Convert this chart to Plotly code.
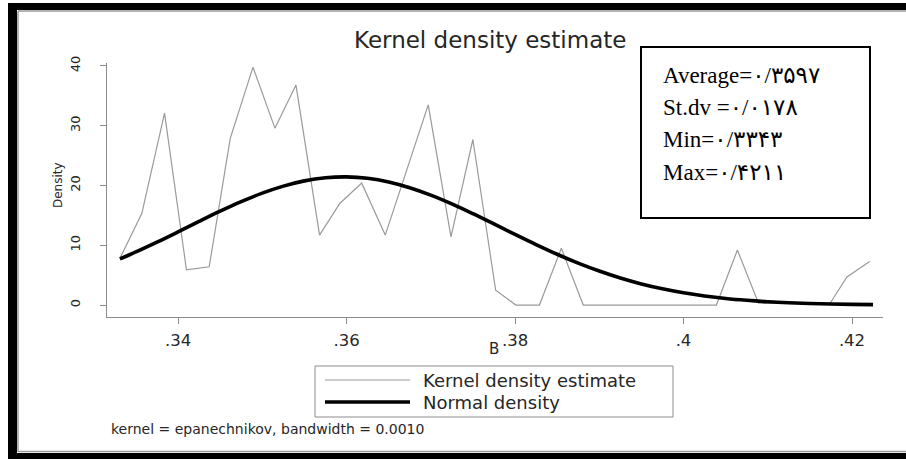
import plotly.graph_objects as go

# Kernel density estimate of B (Epanechnikov kernel, bandwidth 0.0010)
kde_x = [0.3331, 0.3357, 0.3384, 0.3410, 0.3437, 0.3462, 0.3489, 0.3515, 0.3540,
         0.3568, 0.3592, 0.3618, 0.3646, 0.3697, 0.3724, 0.3750, 0.3777, 0.3801,
         0.3829, 0.3855, 0.3881, 0.4039, 0.4064, 0.4089, 0.4174, 0.4194, 0.4221]
kde_y = [7.8, 15.3, 32.1, 5.9, 6.4, 27.9, 39.8, 29.6, 36.8,
         11.7, 17.0, 20.4, 11.7, 33.5, 11.4, 27.7, 2.5, 0.0,
         0.0, 9.5, 0.0, 0.0, 9.2, 0.3, 0.3, 4.7, 7.3]

# Normal density with the sample mean and spread
norm_x = [0.3331, 0.3350, 0.3375, 0.3400, 0.3425, 0.3450, 0.3475, 0.3500, 0.3525,
          0.3550, 0.3575, 0.3600, 0.3625, 0.3650, 0.3675, 0.3700, 0.3725, 0.3750,
          0.3775, 0.3800, 0.3825, 0.3850, 0.3875, 0.3900, 0.3925, 0.3950, 0.3975,
          0.4000, 0.4025, 0.4050, 0.4075, 0.4100, 0.4125, 0.4150, 0.4175, 0.4200, 0.4225]
norm_y = [7.72, 8.88, 10.52, 12.24, 13.99, 15.70, 17.30, 18.72, 19.90,
          20.78, 21.30, 21.45, 21.21, 20.60, 19.64, 18.40, 16.93, 15.29,
          13.57, 11.82, 10.12, 8.50, 7.02, 5.69, 4.53, 3.54, 2.72,
          2.05, 1.52, 1.10, 0.79, 0.55, 0.38, 0.26, 0.17, 0.11, 0.07]

x_ticks = [0.34, 0.36, 0.38, 0.40, 0.42]
x_tick_labels = [".34", ".36", ".38", ".4", ".42"]
y_ticks = [0, 10, 20, 30, 40]
y_tick_labels = ["0", "10", "20", "30", "40"]

stats_lines = ["Average=۰/۳۵۹۷", "St.dv =۰/۰۱۷۸", "Min=۰/۳۳۴۳", "Max=۰/۴۲۱۱"]
legend_labels = ["Kernel density estimate", "Normal density"]
note_text = "kernel = epanechnikov, bandwidth = 0.0010"

W, H = 906, 459
ML, MR, MT, MB = 107, 23, 63, 142
PW, PH = W - ML - MR, H - MT - MB


def px(x):
    return (x - ML) / PW


def py(y):
    return (H - MB - y) / PH


SANS = "DejaVu Sans"
TXT = "#262626"
KDE_COLOR = "#9a9a9a"

fig = go.Figure()
fig.add_trace(go.Scatter(x=kde_x, y=kde_y, mode="lines",
                         line=dict(color=KDE_COLOR, width=1.2),
                         name=legend_labels[0], showlegend=False))
fig.add_trace(go.Scatter(x=norm_x, y=norm_y, mode="lines",
                         line=dict(color="#000000", width=3.6, shape="spline"),
                         name=legend_labels[1], showlegend=False))

shapes = []
# outer frame
shapes.append(dict(type="rect", xref="paper", yref="paper", x0=px(8), x1=px(W + 2),
                   y0=py(10), y1=py(3), fillcolor="black", line=dict(width=0), layer="above"))
shapes.append(dict(type="rect", xref="paper", yref="paper", x0=px(8), x1=px(17),
                   y0=py(H + 2), y1=py(3), fillcolor="black", line=dict(width=0), layer="above"))
shapes.append(dict(type="rect", xref="paper", yref="paper", x0=px(8), x1=px(W + 2),
                   y0=py(H + 2), y1=py(453), fillcolor="black", line=dict(width=0), layer="above"))
shapes.append(dict(type="line", xref="paper", yref="paper", x0=px(18), x1=px(W + 2),
                   y0=py(11), y1=py(11), line=dict(color="#9a9a9a", width=1.5)))
shapes.append(dict(type="line", xref="paper", yref="paper", x0=px(18), x1=px(18),
                   y0=py(452), y1=py(11), line=dict(color="#9a9a9a", width=1.5)))
shapes.append(dict(type="line", xref="paper", yref="paper", x0=px(18), x1=px(W + 2),
                   y0=py(451.5), y1=py(451.5), line=dict(color="#9a9a9a", width=1.5)))

# statistics box
shapes.append(dict(type="rect", xref="paper", yref="paper", x0=px(641), x1=px(870),
                   y0=py(218), y1=py(47), fillcolor="white",
                   line=dict(color="black", width=2), layer="above"))

# legend box with long line samples
shapes.append(dict(type="rect", xref="paper", yref="paper", x0=px(315), x1=px(673),
                   y0=py(417), y1=py(366), line=dict(color="#8c8c8c", width=1)))
shapes.append(dict(type="line", xref="paper", yref="paper", x0=px(325), x1=px(410),
                   y0=py(380), y1=py(380), line=dict(color=KDE_COLOR, width=1.2)))
shapes.append(dict(type="line", xref="paper", yref="paper", x0=px(325), x1=px(410),
                   y0=py(402), y1=py(402), line=dict(color="black", width=3.6)))

annotations = []
annotations.append(dict(text="Kernel density estimate", xref="paper", yref="paper",
                        x=px(490), y=py(40), showarrow=False, xanchor="center",
                        yanchor="middle", font=dict(family=SANS, size=23, color=TXT)))
annotations.append(dict(text="Density", xref="paper", yref="paper", x=px(58), y=py(185),
                        showarrow=False, textangle=-90, xanchor="center", yanchor="middle",
                        font=dict(family=SANS, size=12, color=TXT)))
annotations.append(dict(text="B", xref="paper", yref="paper", x=px(494), y=py(349),
                        showarrow=False, xanchor="center", yanchor="middle",
                        font=dict(family=SANS, size=15, color=TXT)))
annotations.append(dict(text=note_text, xref="paper", yref="paper", x=px(109), y=py(429),
                        showarrow=False, xanchor="left", yanchor="middle",
                        font=dict(family=SANS, size=14, color=TXT)))
for i, lab in enumerate(legend_labels):
    annotations.append(dict(text=lab, xref="paper", yref="paper", x=px(421), y=py(380 + 22 * i),
                            showarrow=False, xanchor="left", yanchor="middle",
                            font=dict(family=SANS, size=18, color=TXT)))
for i, line in enumerate(stats_lines):
    annotations.append(dict(text=line, xref="paper", yref="paper", x=px(661),
                            y=py([75, 107, 139, 172][i]), showarrow=False,
                            xanchor="left", yanchor="middle",
                            font=dict(family="Liberation Serif, DejaVu Sans", size=23,
                                      color="black")))

fig.update_layout(
    width=W, height=H,
    margin=dict(l=ML, r=MR, t=MT, b=MB),
    paper_bgcolor="white", plot_bgcolor="white",
    showlegend=False,
    shapes=shapes, annotations=annotations,
    xaxis=dict(range=[0.33157, 0.42368], tickvals=x_ticks, ticktext=x_tick_labels,
               showgrid=False, zeroline=False, showline=True, linecolor="#8a8a8a",
               linewidth=1, ticks="outside", ticklen=6, tickcolor="#8a8a8a",
               tickfont=dict(family=SANS, size=16.5, color=TXT), ticklabelstandoff=2),
    yaxis=dict(range=[-2.0, 40.5], tickvals=y_ticks, ticktext=y_tick_labels,
               showgrid=False, zeroline=False, showline=True, linecolor="#8a8a8a",
               linewidth=1, ticks="outside", ticklen=6, tickcolor="#8a8a8a",
               tickangle=-90, tickfont=dict(family=SANS, size=13, color=TXT),
               ticklabelstandoff=15),
)

fig.write_html("out.html")
